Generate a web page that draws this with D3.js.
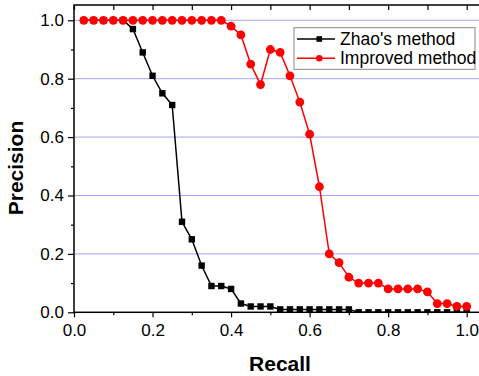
<!DOCTYPE html>
<html><head><meta charset="utf-8">
<script src="https://cdn.jsdelivr.net/npm/d3@7/dist/d3.min.js"></script>
<style>
body{margin:0;background:#fff;}
svg{display:block;}
text{font-family:Arial,"Liberation Sans",sans-serif;}
</style></head>
<body><svg id="c" width="479" height="376"></svg>
<script>
const recall = [0.025,0.05,0.075,0.1,0.125,0.15,0.175,0.2,0.225,0.25,0.275,0.3,0.325,0.35,0.375,0.4,0.425,0.45,0.475,0.5,0.525,0.55,0.575,0.6,0.625,0.65,0.675,0.7,0.725,0.75,0.775,0.8,0.825,0.85,0.875,0.9,0.925,0.95,0.975,1.0];
const zhao = [1,1,1,1,1,0.97,0.89,0.81,0.75,0.71,0.31,0.25,0.16,0.09,0.09,0.08,0.03,0.02,0.02,0.02,0.01,0.01,0.01,0.01,0.01,0.01,0.01,0.01,0,0,0,0,0,0,0,0,0,0,0,0];
const improved = [1,1,1,1,1,1,1,1,1,1,1,1,1,1,1,0.98,0.95,0.85,0.78,0.90,0.89,0.81,0.72,0.61,0.43,0.20,0.17,0.12,0.10,0.10,0.10,0.08,0.08,0.08,0.08,0.07,0.03,0.03,0.02,0.02];
const xTicks = [0,0.2,0.4,0.6,0.8,1.0];
const yTicks = [0,0.2,0.4,0.6,0.8,1.0];
const seriesNames = ["Zhao's method","Improved method"];
const xTitle = "Recall", yTitle = "Precision";

const svg = d3.select("#c");
const L=74, R=487, T=5, B=312.3;
const x = d3.scaleLinear().domain([0,1]).range([74,466.7]);
const y = d3.scaleLinear().domain([0,1]).range([312.3,20.3]);
const minorX = d3.range(0,11).map(i=>i/10);
const minorY = d3.range(0,11).map(i=>i/10);

// gridlines
svg.append("g").selectAll("line").data(yTicks.filter(v=>v>0)).join("line")
  .attr("x1",L).attr("x2",R).attr("y1",d=>y(d)).attr("y2",d=>y(d))
  .attr("stroke","#a4a4f6").attr("stroke-width",1);

// frame
svg.append("rect").attr("x",L).attr("y",T).attr("width",R-L).attr("height",B-T)
  .attr("fill","none").attr("stroke","#000").attr("stroke-width",1.5);

// bottom axis
const fmt = d3.format(".1f");
const gx = svg.append("g").attr("transform",`translate(0,${B})`)
  .call(d3.axisBottom(x).tickValues(xTicks).tickFormat(fmt).tickSizeInner(5).tickSizeOuter(0).tickPadding(4));
gx.select(".domain").remove();
gx.selectAll("text").attr("font-size",17).attr("fill","#000").attr("dy","0.85em");
gx.selectAll("line").attr("stroke","#000").attr("stroke-width",1.2);
const gxm = svg.append("g").attr("transform",`translate(0,${B})`)
  .call(d3.axisBottom(x).tickValues(minorX.filter(v=>!xTicks.some(t=>Math.abs(t-v)<1e-9))).tickFormat("").tickSizeInner(3).tickSizeOuter(0));
gxm.select(".domain").remove();
gxm.selectAll("line").attr("stroke","#000").attr("stroke-width",1.2);

// top ticks (inward)
const gt = svg.append("g").attr("transform",`translate(0,${T})`)
  .call(d3.axisTop(x).tickValues(minorX).tickFormat("").tickSizeInner(-5).tickSizeOuter(0));
gt.select(".domain").remove();
gt.selectAll("line").attr("stroke","#000").attr("stroke-width",1.2);

// left axis
const gy = svg.append("g").attr("transform",`translate(${L},0)`)
  .call(d3.axisLeft(y).tickValues(yTicks).tickFormat(fmt).tickSizeInner(6).tickSizeOuter(0).tickPadding(4));
gy.select(".domain").remove();
gy.selectAll("text").attr("font-size",17).attr("fill","#000");
gy.selectAll("line").attr("stroke","#000").attr("stroke-width",1.2);
const gym = svg.append("g").attr("transform",`translate(${L},0)`)
  .call(d3.axisLeft(y).tickValues(minorY.filter(v=>!yTicks.some(t=>Math.abs(t-v)<1e-9))).tickFormat("").tickSizeInner(3).tickSizeOuter(0));
gym.select(".domain").remove();
gym.selectAll("line").attr("stroke","#000").attr("stroke-width",1.2);

// titles
svg.append("text").attr("x",280).attr("y",371).attr("text-anchor","middle")
  .attr("font-size",21).attr("font-weight","bold").text(xTitle);
svg.append("text").attr("transform","translate(23,168) rotate(-90)").attr("text-anchor","middle")
  .attr("font-size",21).attr("font-weight","bold").text(yTitle);

// lines
const line = d3.line().x((d,i)=>x(recall[i])).y(d=>y(d));
const clip = svg.append("clipPath").attr("id","cp").append("rect")
  .attr("x",L).attr("y",T-10).attr("width",R-L+10).attr("height",B-T+10);
const pg = svg.append("g").attr("clip-path","url(#cp)");
pg.append("path").datum(zhao).attr("d",line).attr("fill","none").attr("stroke","#000").attr("stroke-width",1.5);
pg.selectAll("rect.m").data(zhao).join("rect").attr("class","m")
  .attr("x",(d,i)=>x(recall[i])-3.2).attr("y",d=>y(d)-3.2).attr("width",6.4).attr("height",6.4).attr("fill","#000");
pg.append("path").datum(improved).attr("d",line).attr("fill","none").attr("stroke","#ff0000").attr("stroke-width",1.5);
pg.selectAll("circle.m").data(improved).join("circle").attr("class","m")
  .attr("cx",(d,i)=>x(recall[i])).attr("cy",d=>y(d)).attr("r",4.4).attr("fill","#ff0000");

// legend
const lg = svg.append("g");
lg.append("rect").attr("x",294).attr("y",27.7).attr("width",181).attr("height",41.6)
  .attr("fill","#fff").attr("stroke","#888").attr("stroke-width",1);
const colors = ["#000","#ff0000"];
seriesNames.forEach((n,i)=>{
  const yy = 39 + i*19.3;
  lg.append("line").attr("x1",297).attr("x2",335).attr("y1",yy).attr("y2",yy).attr("stroke",colors[i]).attr("stroke-width",1.5);
  if(i===0) lg.append("rect").attr("x",319.3-2.8).attr("y",yy-2.8).attr("width",5.6).attr("height",5.6).attr("fill","#000");
  else lg.append("circle").attr("cx",319.3).attr("cy",yy).attr("r",3.3).attr("fill","#ff0000");
  lg.append("text").attr("x",340).attr("y",yy).attr("dy","0.35em").attr("font-size",17.5).text(n);
});
</script></body></html>
